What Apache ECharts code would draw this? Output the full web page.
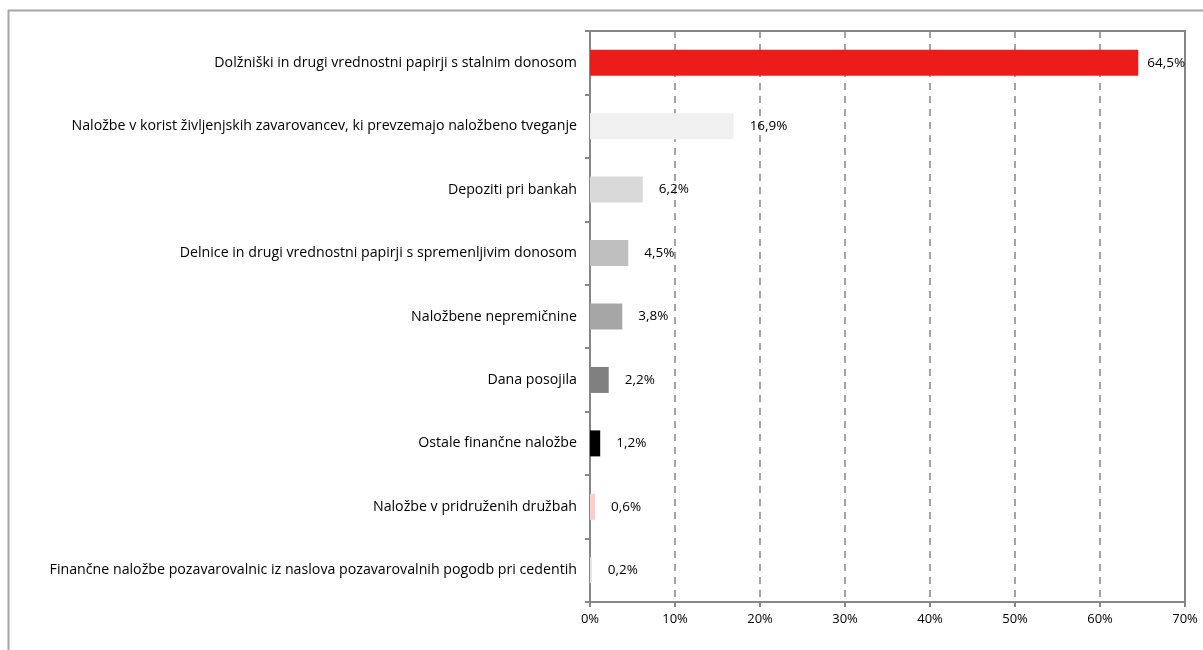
<!DOCTYPE html>
<html>
<head>
<meta charset="utf-8">
<script src="https://cdn.jsdelivr.net/npm/echarts@6/dist/echarts.min.js"></script>
<style>
html,body{margin:0;padding:0;background:#fff;}
#c{width:1203px;height:650px;}
</style>
</head>
<body>
<div id="c"></div>
<script>
const categories = [
  'Dolžniški in drugi vrednostni papirji s stalnim donosom',
  'Naložbe v korist življenjskih zavarovancev, ki prevzemajo naložbeno tveganje',
  'Depoziti pri bankah',
  'Delnice in drugi vrednostni papirji s spremenljivim donosom',
  'Naložbene nepremičnine',
  'Dana posojila',
  'Ostale finančne naložbe',
  'Naložbe v pridruženih družbah',
  'Finančne naložbe pozavarovalnic iz naslova pozavarovalnih pogodb pri cedentih'
];
const values = [64.5, 16.9, 6.2, 4.5, 3.8, 2.2, 1.2, 0.6, 0.2];
const barColors = ['#ED1C1C', '#F0F0F0', '#D9D9D9', '#BFBFBF', '#A6A6A6', '#808080', '#000000', '#FFCCCC', '#E0E0E0'];
const xTicks = [0, 10, 20, 30, 40, 50, 60, 70];

const FONT = 'Open Sans';
const chart = echarts.init(document.getElementById('c'), null, {renderer: 'canvas'});
chart.setOption({
  animation: false,
  backgroundColor: '#fff',
  textStyle: {fontFamily: FONT},
  graphic: [{
    type: 'rect',
    shape: {x: 8.5, y: 10.5, width: 1300, height: 700},
    style: {fill: 'none', stroke: '#A6A6A6', lineWidth: 2}
  }],
  grid: {
    left: 590, right: 18, top: 31, bottom: 48,
    show: true, borderColor: '#868686', borderWidth: 2, backgroundColor: 'transparent'
  },
  xAxis: {
    type: 'value',
    min: xTicks[0], max: xTicks[xTicks.length - 1], interval: 10,
    axisLine: {show: true, lineStyle: {color: '#868686', width: 2}},
    axisTick: {show: true, length: 5, lineStyle: {color: '#868686', width: 2}},
    axisLabel: {
      formatter: v => v + '%', color: '#000', fontSize: 13, fontFamily: FONT, margin: 11
    },
    splitLine: {show: true, lineStyle: {color: '#868686', width: 1.5, type: [7, 6]}}
  },
  yAxis: {
    type: 'category',
    inverse: true,
    data: categories,
    axisLine: {show: true, lineStyle: {color: '#868686', width: 2}},
    axisTick: {show: true, length: 5, lineStyle: {color: '#868686', width: 2}},
    axisLabel: {color: '#000', fontSize: 14.2, fontFamily: FONT, margin: 13}
  },
  series: [{
    type: 'bar',
    barWidth: 26,
    data: values.map((v, i) => ({
      value: v,
      itemStyle: {color: barColors[i]},
      label: {distance: i === 0 ? 9 : 16}
    })),
    label: {
      show: true, position: 'right', color: '#000', fontSize: 13.5, fontFamily: FONT,
      formatter: p => String(p.value).replace('.', ',') + '%'
    }
  }]
});
</script>
</body>
</html>
